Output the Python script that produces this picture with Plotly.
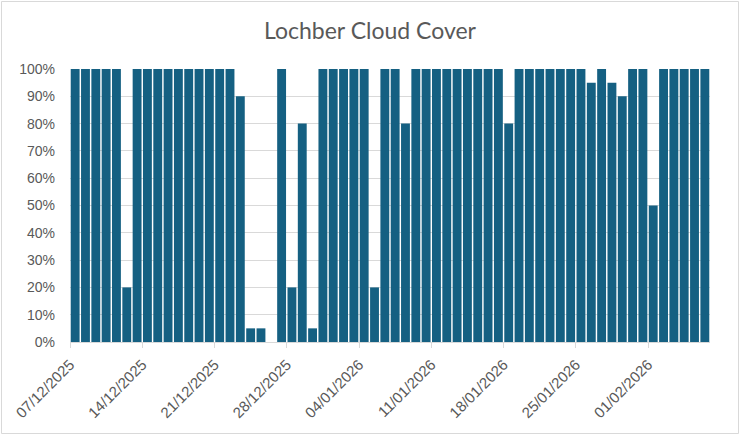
import plotly.graph_objects as go
import pandas as pd

start_date = "2025-12-07"
n_days = 62
dates = pd.date_range(start_date, periods=n_days, freq="D")

cloud_cover = [
    100, 100, 100, 100, 100, 20, 100, 100, 100, 100,
    100, 100, 100, 100, 100, 100, 90, 5, 5, 0,
    100, 20, 80, 5, 100, 100, 100, 100, 100, 20,
    100, 100, 80, 100, 100, 100, 100, 100, 100, 100,
    100, 100, 80, 100, 100, 100, 100, 100, 100, 100,
    95, 100, 95, 90, 100, 100, 50, 100, 100, 100,
    100, 100,
]
values = [v / 100 for v in cloud_cover]

title = "Lochber Cloud Cover"
bar_color = "#156082"
text_color = "#595959"
grid_color = "#d9d9d9"

fig = go.Figure(
    go.Bar(
        x=dates,
        y=values,
        xperiod=86400000,
        xperiodalignment="middle",
        marker=dict(color=bar_color, line=dict(width=0)),
        hovertemplate="%{x|%d/%m/%Y}: %{y:.0%}<extra></extra>",
    )
)

fig.update_layout(
    width=740,
    height=435,
    margin=dict(l=70, r=30, t=69, b=93),
    paper_bgcolor="white",
    plot_bgcolor="white",
    bargap=0.14,
    showlegend=False,
    title=dict(
        text=title,
        x=0.5,
        xanchor="center",
        y=1 - 31 / 435,
        yanchor="middle",
        font=dict(family="Lato, Open Sans, sans-serif", size=23, color=text_color),
    ),
    font=dict(family="Liberation Sans, Arial, sans-serif", size=13, color=text_color),
)

fig.update_xaxes(
    type="date",
    automargin=False,
    range=[dates[0], dates[-1] + pd.Timedelta(days=1)],
    tick0=start_date,
    dtick=7 * 86400000,
    tickformat="%d/%m/%Y",
    tickangle=-45,
    ticks="outside",
    ticklen=5,
    tickcolor=grid_color,
    showline=True,
    linecolor=grid_color,
    showgrid=False,
    zeroline=False,
    ticklabelstandoff=2,
    tickfont=dict(size=15, color=text_color),
)

fig.update_yaxes(
    automargin=False,
    range=[0, 1.0],
    dtick=0.1,
    tickformat=".0%",
    showgrid=True,
    gridcolor=grid_color,
    gridwidth=1,
    zeroline=False,
    showline=False,
    ticks="",
    ticklabelstandoff=14,
    tickfont=dict(size=14, color=text_color),
)

# chart-area border
fig.add_shape(
    type="rect",
    xref="paper",
    yref="paper",
    x0=-68.5 / 640,
    x1=1 + 28.5 / 640,
    y0=-91.5 / 273,
    y1=1 + 67.5 / 273,
    line=dict(color=grid_color, width=1),
    fillcolor="rgba(0,0,0,0)",
    layer="below",
)

fig.write_html(
    "out.html",
    config={"displayModeBar": False},
    post_script="document.body.style.margin='0';document.body.style.overflow='hidden';",
)
